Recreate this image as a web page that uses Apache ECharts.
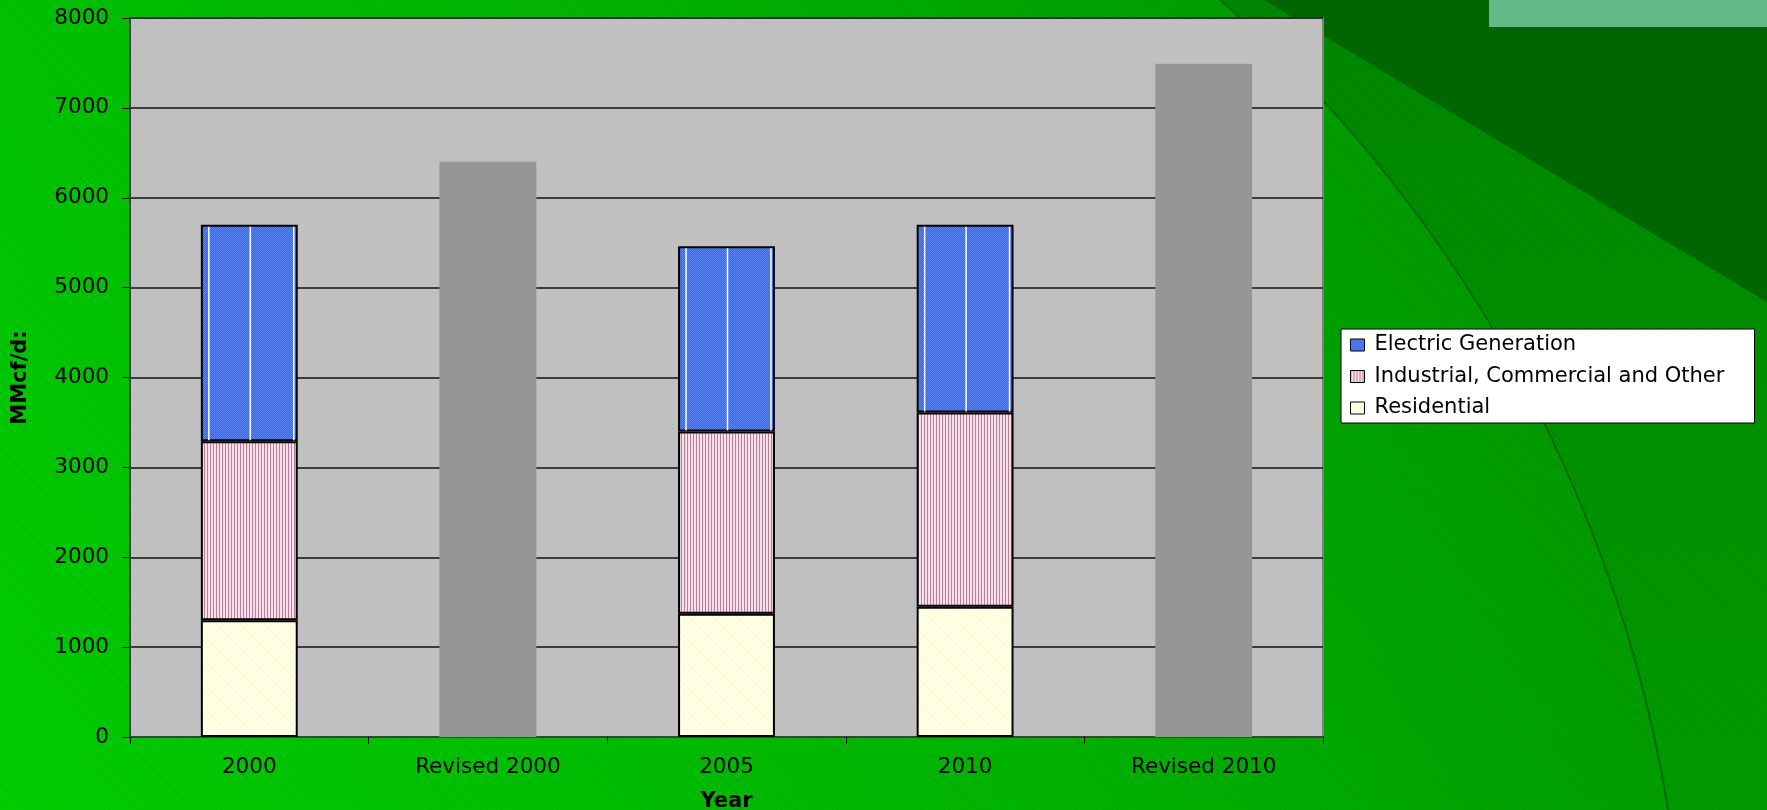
<!DOCTYPE html>
<html>
<head>
<meta charset="utf-8">
<script src="https://cdn.jsdelivr.net/npm/echarts@6/dist/echarts.min.js"></script>
<style>
  html, body { margin: 0; padding: 0; overflow: hidden; background: #00b000; }
  #chart { width: 1767px; height: 810px; }
</style>
</head>
<body>
<div id="chart"></div>
<script>
// Gas demand by sector (MMcf/day)
const categories = ['2000', 'Revised 2000', '2005', '2010', 'Revised 2010'];
const residential = [1300, '-', 1370, 1450, '-'];
const industrial = [1990, '-', 2030, 2160, '-'];
const electric = [2410, '-', 2060, 2090, '-'];
const revisedTotal = ['-', 6400, '-', '-', 7490];
const yMin = 0, yMax = 8000, yStep = 1000;

const FONT = "'DejaVu Sans', Verdana, sans-serif";

// small repeating fills for the bar segments
function makePattern(w, h, draw) {
  const c = document.createElement('canvas');
  c.width = w; c.height = h;
  draw(c.getContext('2d'));
  return { image: c, repeat: 'repeat' };
}
const electricFill = makePattern(2, 2, g => {
  g.fillStyle = '#3a66e6'; g.fillRect(0, 0, 2, 2);
  g.fillStyle = '#5a84f4'; g.fillRect(0, 0, 1, 1); g.fillRect(1, 1, 1, 1);
});
const industrialFill = makePattern(3, 1, g => {
  g.fillStyle = '#f2e2ea'; g.fillRect(0, 0, 3, 1);
  g.fillStyle = '#c07a9e'; g.fillRect(0, 0, 1, 1);
});
const residentialFill = makePattern(6, 6, g => {
  g.fillStyle = '#fffff0'; g.fillRect(0, 0, 6, 6);
  g.fillStyle = '#ffffc4';
  for (let i = 0; i < 6; i++) { g.fillRect(i, i, 1, 1); g.fillRect((i + 1) % 6, i, 1, 1); }
});
const hatchFill = makePattern(14, 14, g => {
  g.strokeStyle = 'rgba(0,60,0,0.09)';
  g.lineWidth = 1;
  g.beginPath(); g.moveTo(0, 0); g.lineTo(14, 14); g.stroke();
});

// white seams drawn inside the electric segments
const seamData = [];
categories.forEach((c, i) => {
  if (electric[i] !== '-') {
    const base = residential[i] + industrial[i];
    seamData.push([i, base, base + electric[i]]);
  }
});

const BAR_RATIO = 0.406;

const chart = echarts.init(document.getElementById('chart'));
chart.setOption({
  animation: false,
  backgroundColor: { type: 'linear', x: 0, y: 0, x2: 0, y2: 1,
    colorStops: [{ offset: 0, color: '#008600' }, { offset: 1, color: '#009a00' }] },
  graphic: [
    { type: 'circle', z: -10, silent: true,
      shape: { cx: 309, cy: 1032, r: 1377 },
      style: { fill: { type: 'linear', global: true, x: 0, y: 810, x2: 1500, y2: 0,
        colorStops: [{ offset: 0, color: '#00cc00' }, { offset: 0.55, color: '#00b200' }, { offset: 1, color: '#009400' }] } } },
    { type: 'rect', z: -9, silent: true,
      shape: { x: 0, y: 0, width: 1767, height: 810 },
      style: { fill: hatchFill } },
    { type: 'polygon', z: -8, silent: true,
      shape: { points: [[1264, 0], [1767, 0], [1767, 302]] },
      style: { fill: '#006600' } },
    { type: 'circle', z: -7, silent: true,
      shape: { cx: 309, cy: 1032, r: 1377 },
      style: { fill: null, stroke: '#006a00', lineWidth: 2 } },
    { type: 'rect', z: -6, silent: true,
      shape: { x: 1489, y: 0, width: 278, height: 27 },
      style: { fill: '#63bb88' } }
  ],
  grid: {
    left: 130, right: 444, top: 18, bottom: 73,
    outerBoundsMode: 'none', containLabel: false,
    show: true, backgroundColor: '#c0c0c0', borderColor: '#808080', borderWidth: 2
  },
  legend: {
    data: ['Electric Generation', 'Industrial, Commercial and Other', 'Residential'],
    orient: 'vertical', left: 1341, top: 329,
    backgroundColor: '#ffffff', borderColor: '#000', borderWidth: 1, borderRadius: 0,
    padding: [5, 10, 4, 9], itemGap: 9.5, itemWidth: 14, itemHeight: 12,
    icon: 'rect',
    itemStyle: { borderColor: '#000', borderWidth: 1 },
    textStyle: { color: '#000', fontSize: 21, fontFamily: FONT, lineHeight: 22,
      width: 370, padding: [0, 0, 0, 5] },
    selectedMode: false
  },
  xAxis: {
    type: 'category', data: categories,
    axisLine: { lineStyle: { color: '#404040', width: 2 } },
    axisTick: { show: true, length: 7, lineStyle: { color: '#000', width: 1 } },
    axisLabel: { color: '#000', fontSize: 21.5, fontFamily: FONT, margin: 19 },
    name: 'Year', nameLocation: 'middle', nameGap: 54,
    nameTextStyle: { color: '#000', fontSize: 21, fontWeight: 'bold', fontFamily: FONT }
  },
  yAxis: {
    type: 'value', min: yMin, max: yMax, interval: yStep,
    axisLine: { show: true, lineStyle: { color: '#404040', width: 2 } },
    axisTick: { show: true, length: 8, lineStyle: { color: '#000', width: 1 } },
    axisLabel: { color: '#000', fontSize: 21.5, fontFamily: FONT, margin: 21,
      formatter: v => String(v) },
    splitLine: { lineStyle: { color: '#111', width: 1.5 } },
    name: 'MMcf/d:', nameLocation: 'middle', nameGap: 99, nameRotate: 90,
    nameTextStyle: { color: '#000', fontSize: 21, fontWeight: 'bold', fontFamily: FONT }
  },
  series: [
    { name: 'Residential', type: 'bar', stack: 'total', data: residential,
      barWidth: (BAR_RATIO * 100) + '%',
      itemStyle: { color: residentialFill, borderColor: '#000', borderWidth: 2 } },
    { name: 'Industrial, Commercial and Other', type: 'bar', stack: 'total', data: industrial,
      barWidth: (BAR_RATIO * 100) + '%',
      itemStyle: { color: industrialFill, borderColor: '#000', borderWidth: 2 } },
    { name: 'Electric Generation', type: 'bar', stack: 'total', data: electric,
      barWidth: (BAR_RATIO * 100) + '%',
      itemStyle: { color: electricFill, borderColor: '#000', borderWidth: 2 } },
    { name: 'Revised', type: 'bar', stack: 'total', data: revisedTotal,
      barWidth: (BAR_RATIO * 100) + '%',
      itemStyle: { color: '#969696', borderWidth: 0 } },
    { name: 'seams', type: 'custom', data: seamData, z: 5, silent: true,
      encode: { x: 0, y: [1, 2] },
      renderItem: function (params, api) {
        const i = api.value(0);
        const lo = api.coord([i, api.value(1)]);
        const hi = api.coord([i, api.value(2)]);
        const bw = api.size([1, 0])[0] * BAR_RATIO;
        const left = lo[0] - bw / 2;
        const xs = [left + 8, lo[0] + 1, left + bw - 4];
        return {
          type: 'group',
          children: xs.map(x => ({
            type: 'line',
            shape: { x1: x, y1: lo[1] - 1, x2: x, y2: hi[1] + 2 },
            style: { stroke: '#ffffff', lineWidth: 1.5 }
          }))
        };
      } }
  ]
});
</script>
</body>
</html>
